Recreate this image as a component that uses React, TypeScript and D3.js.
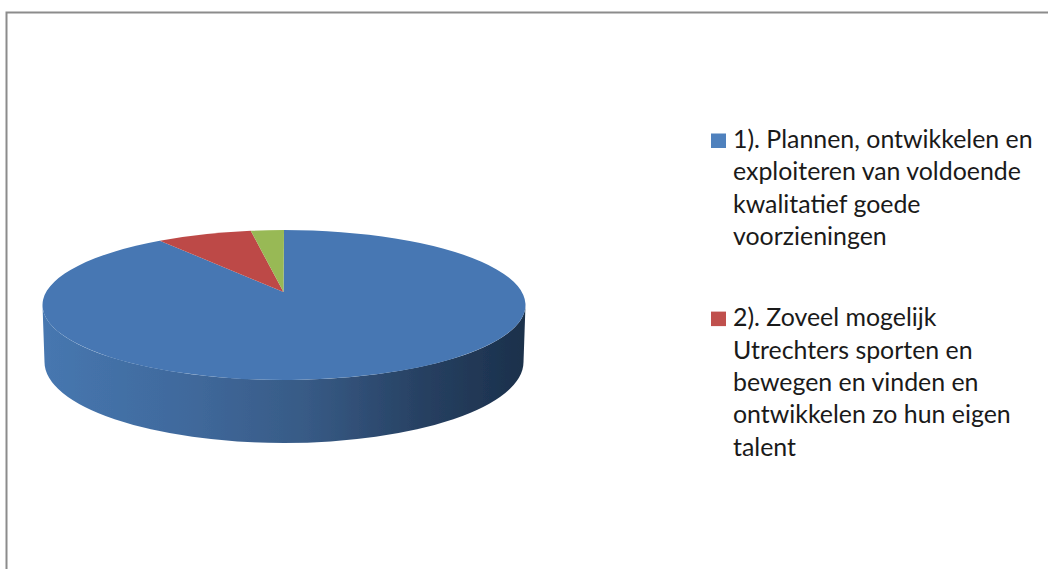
import React from "react";
import * as d3 from "d3";

const seriesValues = [91.4, 6.4, 2.2];
const seriesColors = ["#4677b3", "#bd4a47", "#98b954"];
const legendLabels = [
  ["1). Plannen, ontwikkelen en", "exploiteren van voldoende", "kwalitatief goede", "voorzieningen"],
  ["2). Zoveel mogelijk", "Utrechters sporten en", "bewegen en vinden en", "ontwikkelen zo hun eigen", "talent"],
];
const legendColors = ["#4f81bd", "#c0504d"];

const W = 1048, H = 569;
const top = { cx: 284, cy: 305, rx: 241.5, ry: 75 };
const bottom = { cx: 284, cy: 362, rx: 239.5, ry: 81 };
const apex: [number, number] = [283.5, 292];

const onEllipse = (a: number): [number, number] => [
  top.cx + top.rx * Math.sin(a),
  top.cy - top.ry * Math.cos(a),
];

const pieGen = d3.pie<number>().sort(null).value((d) => d);

export default function App() {
  const arcs = pieGen(seriesValues);
  const slices = arcs.map((s) => {
    const p0 = onEllipse(s.startAngle);
    const p1 = onEllipse(s.endAngle);
    const large = s.endAngle - s.startAngle > Math.PI ? 1 : 0;
    return `M${apex[0]},${apex[1]}L${p0[0]},${p0[1]}A${top.rx},${top.ry} 0 ${large} 1 ${p1[0]},${p1[1]}Z`;
  });
  const wall =
    `M${top.cx - top.rx},${top.cy}` +
    `A${top.rx},${top.ry} 0 0 0 ${top.cx + top.rx},${top.cy}` +
    `L${bottom.cx + bottom.rx},${bottom.cy}` +
    `A${bottom.rx},${bottom.ry} 0 0 1 ${bottom.cx - bottom.rx},${bottom.cy}Z`;

  let y = 148;
  const lineH = 32.4;
  const legendY = legendLabels.map((lines) => {
    const start = y;
    y += lines.length * lineH + 48.5;
    return start;
  });

  return (
    <svg
      width={W}
      height={H}
      viewBox={`0 0 ${W} ${H}`}
      style={{ position: "fixed", left: 0, top: 0, display: "block", background: "#fff" }}
    >
      <defs>
        <linearGradient id="wall" gradientUnits="userSpaceOnUse" x1={42} x2={526} y1={0} y2={0}>
          <stop offset="0" stopColor="#4677b0" />
          <stop offset="0.3" stopColor="#40699c" />
          <stop offset="0.55" stopColor="#375a85" />
          <stop offset="0.8" stopColor="#263f60" />
          <stop offset="1" stopColor="#1b304b" />
        </linearGradient>
        <filter id="soft" x="-5%" y="-5%" width="110%" height="110%">
          <feGaussianBlur stdDeviation="0.6" />
        </filter>
      </defs>
      <path d={`M6.5,${H}V12.5H${W}`} fill="none" stroke="#8c8c8c" strokeWidth={2} />
      <g filter="url(#soft)">
        <path d={wall} fill="url(#wall)" />
        {slices.map((d, i) => (
          <path key={i} d={d} fill={seriesColors[i]} />
        ))}
      </g>
      {legendLabels.map((lines, i) => (
        <g key={i}>
          <rect x={711} y={legendY[i] - 14.5} width={15} height={14.5} fill={legendColors[i]} />
          {lines.map((t, j) => (
            <text
              key={j}
              x={733}
              y={legendY[i] + j * lineH}
              fontFamily="Lato"
              fontSize={24.9}
              fill="#1a1a1a"
            >
              {t}
            </text>
          ))}
        </g>
      ))}
    </svg>
  );
}
